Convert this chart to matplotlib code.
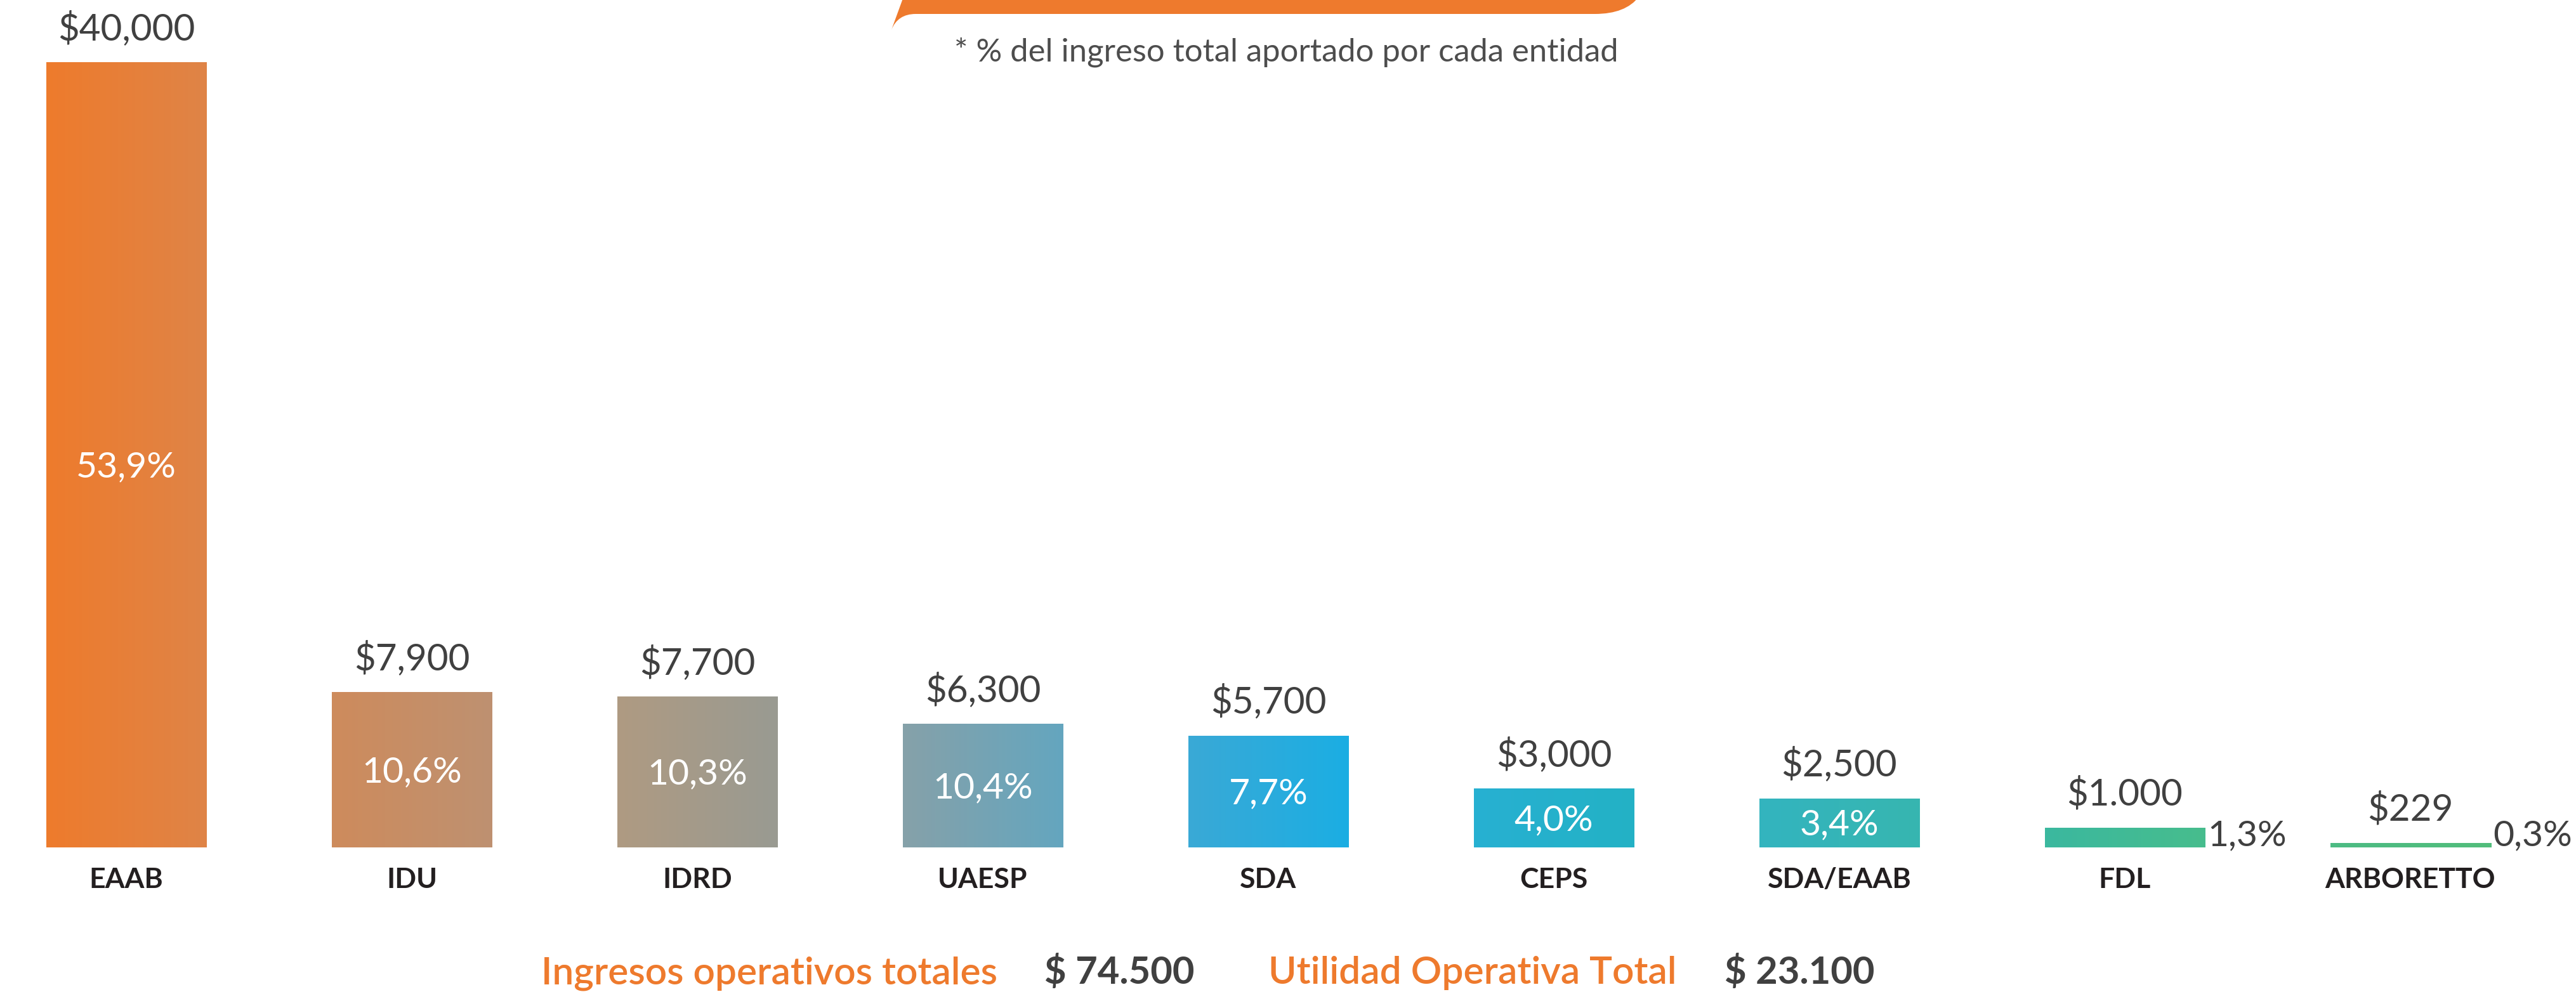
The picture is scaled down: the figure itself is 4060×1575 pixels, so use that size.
import numpy as np
import matplotlib
matplotlib.use("Agg")
import matplotlib.pyplot as plt
from matplotlib.path import Path
from matplotlib.patches import PathPatch
from matplotlib.colors import LinearSegmentedColormap

plt.rcParams['font.family'] = ['Lato', 'DejaVu Sans']

# data
entidades = ["EAAB", "IDU", "IDRD", "UAESP", "SDA", "CEPS", "SDA/EAAB", "FDL", "ARBORETTO"]
ingresos = [40000, 7900, 7700, 6300, 5700, 3000, 2500, 1000, 229]
etiquetas_valor = ["$40,000", "$7,900", "$7,700", "$6,300", "$5,700", "$3,000", "$2,500", "$1.000", "$229"]
porcentajes = ["53,9%", "10,6%", "10,3%", "10,4%", "7,7%", "4,0%", "3,4%", "1,3%", "0,3%"]
colores_izq = ["#ee7b2c", "#ce8b5c", "#af9a82", "#86a1a9", "#3aa9d6", "#27b0d2", "#33b4bf", "#3bb89f", "#4cbb84"]
colores_der = ["#df8447", "#be9171", "#999b92", "#64a6bf", "#1baee3", "#23b2c5", "#37b6b0", "#47bd8d", "#52bd7b"]
total_ingresos = "$ 74.500"
total_utilidad = "$ 23.100"

W, H = 4060, 1575
fig = plt.figure(figsize=(W / 100, H / 100), dpi=100)
ax = fig.add_axes([0, 0, 1, 1])
ax.axis("off")

# pixel mapping: x=0 at px 199, 450 px per bar; y=0 at px 1336, 40000 at px 98
px_unit = 450
py_unit = (1336 - 98) / 40000

x = np.arange(len(entidades))
ancho = 253 / px_unit
barras = ax.bar(x, ingresos, width=ancho, color="none", edgecolor="none")

grad = np.linspace(0, 1, 256).reshape(1, -1)
for i, b in enumerate(barras):
    cmap = LinearSegmentedColormap.from_list("g%d" % i, [colores_izq[i], colores_der[i]])
    x0, y0 = b.get_x(), b.get_y()
    im = ax.imshow(grad, cmap=cmap, aspect="auto", extent=[x0, x0 + b.get_width(), y0, y0 + b.get_height()],
                   zorder=2)
    im.set_clip_path(b)

ax.set_xlim(-199 / px_unit, (W - 199) / px_unit)
ax.set_ylim(-(H - 1336) / py_unit, 1336 / py_unit)

for i, b in enumerate(barras):
    v = ingresos[i]
    ax.annotate(etiquetas_valor[i], (x[i], v), xytext=(0, 53), textcoords="offset pixels",
                ha="center", va="center", fontsize=42, color="#404040")
    ax.annotate(entidades[i], (x[i], 0), xytext=(0, -51), textcoords="offset pixels",
                ha="center", va="center", fontsize=32, fontweight="bold", color="#231f20")
    if v > 2000:
        # big bar: label sits a little below the middle
        off = -20 if v > 20000 else -4
        ax.annotate(porcentajes[i], (x[i], v / 2), xytext=(0, off), textcoords="offset pixels",
                    ha="center", va="center", fontsize=41, color="white", zorder=3)
    else:
        ax.annotate(porcentajes[i], (x[i] + ancho / 2, 0), xytext=(4, 18), textcoords="offset pixels",
                    ha="left", va="center", fontsize=41, color="#404040")

# orange banner shape at the top
pts = [(1424, -5), (1405, 47), (1415, 22), (1443, 22), (2514, 22), (2562, 22), (2583, -5), (1424, -5)]
codes = [Path.MOVETO, Path.LINETO, Path.CURVE3, Path.CURVE3, Path.LINETO, Path.CURVE3, Path.CURVE3, Path.CLOSEPOLY]
verts = [(px / W, 1 - py / H) for px, py in pts]
fig.patches.append(PathPatch(Path(verts, codes), facecolor="#ee7a2d", edgecolor="none",
                             transform=fig.transFigure))

fig.text(2027 / W, 1 - 97 / H, "* % del ingreso total aportado por cada entidad", ha="center", va="baseline",
         fontsize=36.5, color="#4d4d4d")

base = 1 - 1551 / H
fig.text(853 / W, base, "Ingresos operativos totales", ha="left", va="baseline", fontsize=43.5,
         fontweight="semibold", color="#ee7a2d")
fig.text(1646 / W, base, total_ingresos, ha="left", va="baseline", fontsize=43, fontweight="bold",
         color="#404040")
fig.text(1999 / W, base, "Utilidad Operativa Total", ha="left", va="baseline", fontsize=43.5,
         fontweight="semibold", color="#ee7a2d")
fig.text(2718 / W, base, total_utilidad, ha="left", va="baseline", fontsize=43, fontweight="bold",
         color="#404040")

fig.savefig("out.png", dpi=100)
